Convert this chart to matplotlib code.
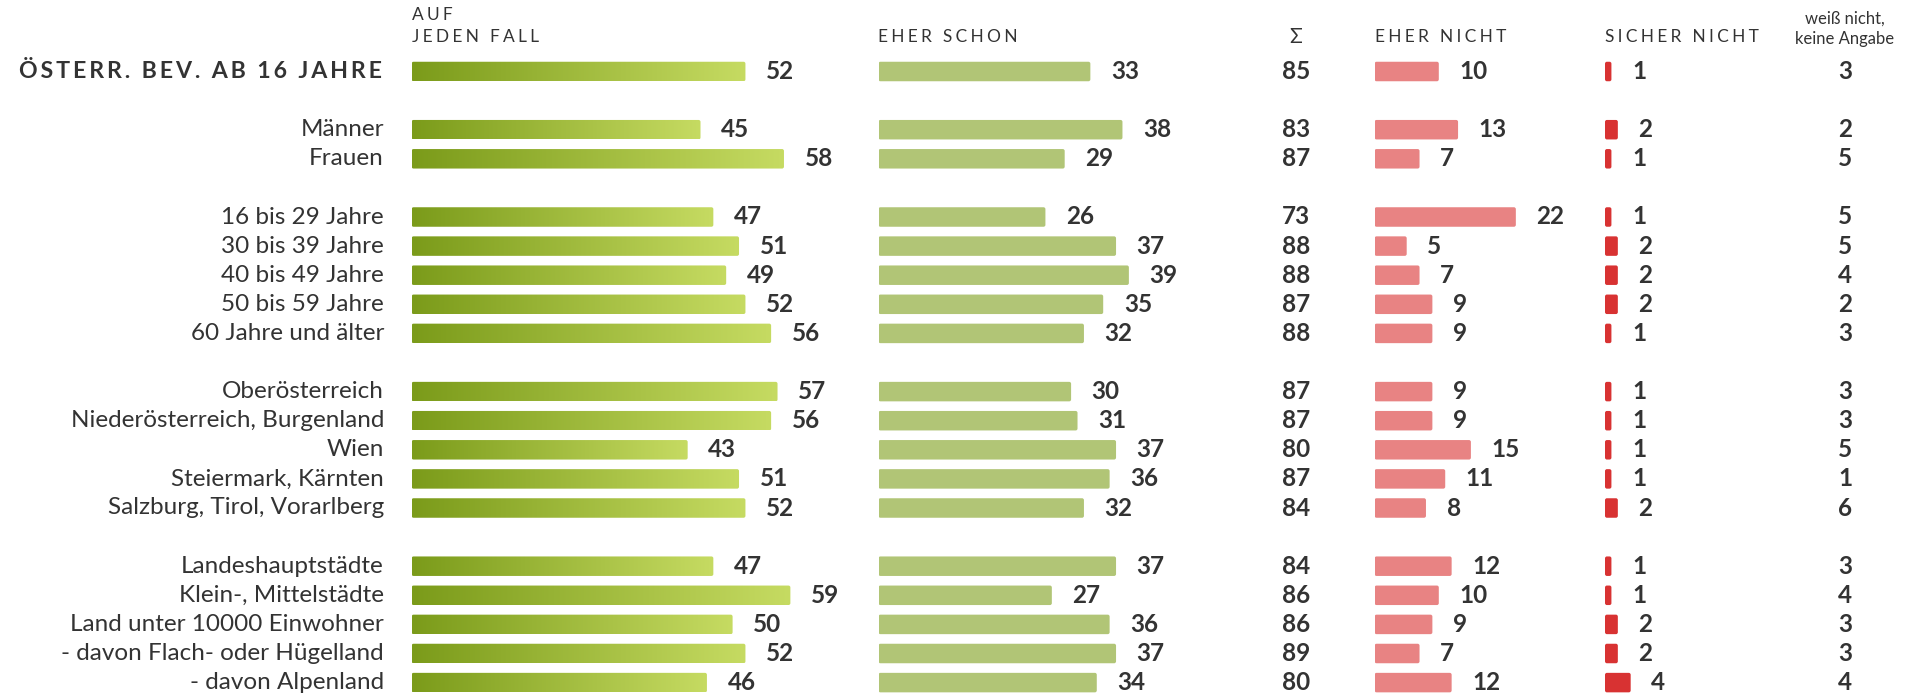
import numpy as np
import matplotlib.pyplot as plt
from matplotlib.colors import LinearSegmentedColormap
from matplotlib.patches import FancyBboxPatch

plt.rcParams['font.family'] = ['Lato', 'DejaVu Sans']

# ---- data ----
labels = ['ÖSTERR. BEV. AB 16 JAHRE',
          'Männer', 'Frauen',
          '16 bis 29 Jahre', '30 bis 39 Jahre', '40 bis 49 Jahre', '50 bis 59 Jahre', '60 Jahre und älter',
          'Oberösterreich', 'Niederösterreich, Burgenland', 'Wien', 'Steiermark, Kärnten',
          'Salzburg, Tirol, Vorarlberg',
          'Landeshauptstädte', 'Klein-, Mittelstädte', 'Land unter 10000 Einwohner',
          '- davon Flach- oder Hügelland', '- davon Alpenland']
rows = [0, 2, 3, 5, 6, 7, 8, 9, 11, 12, 13, 14, 15, 17, 18, 19, 20, 21]

auf_jeden_fall = [52, 45, 58, 47, 51, 49, 52, 56, 57, 56, 43, 51, 52, 47, 59, 50, 52, 46]
eher_schon = [33, 38, 29, 26, 37, 39, 35, 32, 30, 31, 37, 36, 32, 37, 27, 36, 37, 34]
summe = [85, 83, 87, 73, 88, 88, 87, 88, 87, 87, 80, 87, 84, 84, 86, 86, 89, 80]
eher_nicht = [10, 13, 7, 22, 5, 7, 9, 9, 9, 9, 15, 11, 8, 12, 10, 9, 7, 12]
sicher_nicht = [1, 2, 1, 1, 2, 2, 2, 1, 1, 1, 1, 1, 2, 1, 1, 2, 2, 4]
weiss_nicht = [3, 2, 5, 5, 5, 4, 2, 3, 3, 3, 5, 1, 6, 3, 4, 3, 3, 4]

# ---- layout (pixels) ----
W, H = 1921, 693
PX = 6.42          # pixels per percent
ROW = 29.1         # pixels per row
Y0 = 71.5          # pixel y of first row centre
BAR_H = 0.67
TXT = '#333333'
GREEN_DARK, GREEN_LIGHT = '#7b9b1a', '#c6db62'
FS = 17.5

fig = plt.figure(figsize=(W / 100, H / 100), dpi=100)
ylim = ((H - Y0) / ROW, -Y0 / ROW)


def col_axes(left_px, width_px):
    ax = fig.add_axes([left_px / W, 0, width_px / W, 1])
    ax.set_xlim(0, width_px / PX)
    ax.set_ylim(*ylim)
    ax.axis('off')
    return ax


def spaced(s, sp='\u2009'):
    return sp.join(s)


def value_labels(ax, vals):
    for r, v in zip(rows, vals):
        ax.text(v + 3.2, r, str(v), ha='left', va='center', fontsize=FS,
                fontweight='bold', color=TXT)


hdr = dict(fontsize=12.5, color=TXT, ha='left', va='center')
HSP = '\u2009\u200a'

# green gradient column
ax1 = col_axes(411.6, 420)
cmap = LinearSegmentedColormap.from_list('g', [GREEN_DARK, GREEN_LIGHT])
grad = np.linspace(0, 1, 256).reshape(1, -1)
for r, v in zip(rows, auf_jeden_fall):
    p = FancyBboxPatch((0, r - BAR_H / 2), v, BAR_H,
                       boxstyle='round,pad=0,rounding_size=0.3',
                       mutation_aspect=PX / ROW,
                       fc='none', ec='none')
    ax1.add_patch(p)
    im = ax1.imshow(grad, cmap=cmap, aspect='auto',
                    extent=(0, v, r + BAR_H / 2, r - BAR_H / 2), zorder=2)
    im.set_clip_path(p)
ax1.set_xlim(0, 420 / PX)
ax1.set_ylim(*ylim)
value_labels(ax1, auf_jeden_fall)

for i, (r, lab) in enumerate(zip(rows, labels)):
    if i == 0:
        ax1.text(-4.6, r, spaced(lab), ha='right', va='center', fontsize=16.7,
                 fontweight='bold', color=TXT)
    else:
        ax1.text(-4.3, r, lab, ha='right', va='center', fontsize=FS, color=TXT)

ax1.text(0, -1.93, spaced('AUF', HSP), **hdr)
ax1.text(0, -1.17, spaced('JEDEN FALL', HSP), **hdr)


def simple_col(left, vals, color, header):
    ax = col_axes(left, 300)
    for r, v in zip(rows, vals):
        ax.add_patch(FancyBboxPatch((0, r - BAR_H / 2), v, BAR_H,
                                    boxstyle='round,pad=0,rounding_size=0.3',
                                    mutation_aspect=PX / ROW,
                                    fc=color, ec='none'))
    value_labels(ax, vals)
    ax.text(0, -1.17, spaced(header, HSP), **hdr)
    return ax


simple_col(878.5, eher_schon, '#b1c576', 'EHER SCHON')
simple_col(1374.6, eher_nicht, '#e88383', 'EHER NICHT')
simple_col(1605.0, sicher_nicht, '#d83232', 'SICHER NICHT')

# sum and "weiß nicht" columns (text only)
axs = col_axes(0, W)
sum_x = 1296 / PX
wn_x = 1845 / PX
axs.text(sum_x, -1.17, 'Σ', ha='center', va='center', fontsize=15, color=TXT)
axs.text(wn_x, -1.82, 'weiß nicht,', ha='center', va='center', fontsize=12,
         color=TXT)
axs.text(wn_x, -1.13, 'keine Angabe', ha='center', va='center', fontsize=12,
         color=TXT)
for r, s, w in zip(rows, summe, weiss_nicht):
    axs.text(sum_x, r, str(s), ha='center', va='center', fontsize=FS,
             fontweight='bold', color=TXT)
    axs.text(wn_x, r, str(w), ha='center', va='center', fontsize=FS,
             fontweight='bold', color=TXT)

fig.savefig('out.png', dpi=100)
